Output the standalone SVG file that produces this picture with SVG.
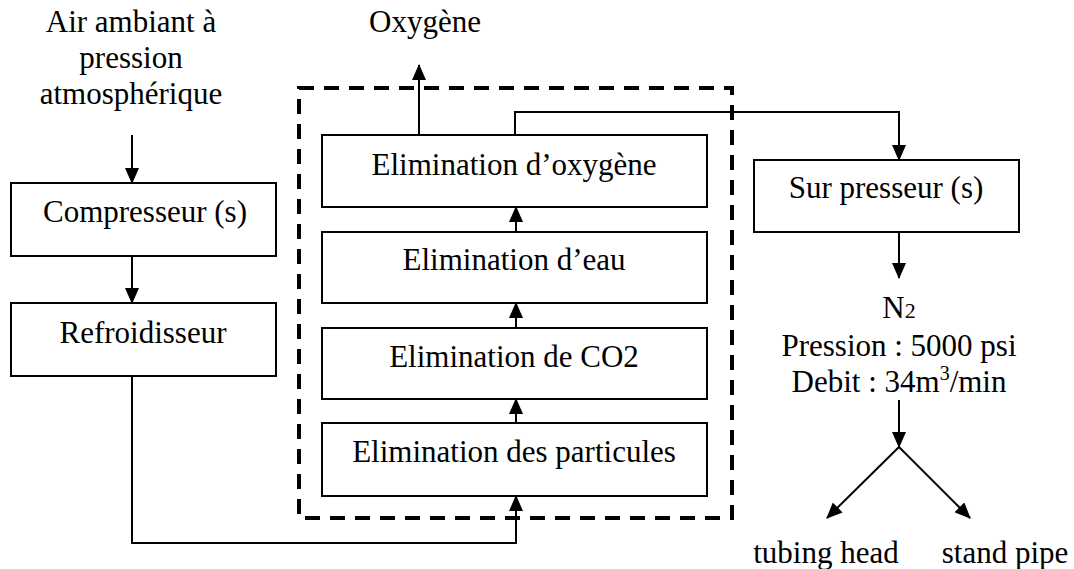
<svg xmlns="http://www.w3.org/2000/svg" width="1074" height="569" viewBox="0 0 1074 569">
<style>
text{font-family:"Liberation Serif","Times New Roman",serif;font-size:31px;fill:#000;}
.box{fill:#fff;stroke:#000;stroke-width:2;}
.ln{fill:none;stroke:#000;stroke-width:2;}
.arr{marker-end:url(#ah);}
</style>
<defs>
<marker id="ah" viewBox="0 0 16 14" markerUnits="userSpaceOnUse" markerWidth="16" markerHeight="14" refX="15" refY="7" orient="auto">
<path d="M0,0 L16,7 L0,14 z" fill="#000"/>
</marker>
</defs>
<rect width="1074" height="569" fill="#fff"/>
<rect id="boundary" x="299" y="88" width="433" height="430" fill="none" stroke="#000" stroke-width="4" stroke-dasharray="15 10"/>
<g id="air"><text x="131" y="32" text-anchor="middle">Air ambiant à</text><text x="131" y="68" text-anchor="middle">pression</text><text x="131" y="104" text-anchor="middle">atmosphérique</text></g>
<g id="oxygene-out"><text x="425" y="32" text-anchor="middle">Oxygène</text></g>
<g id="compresseur"><rect class="box" x="11" y="183" width="265" height="73"/><text x="145" y="222" text-anchor="middle">Compresseur (s)</text></g>
<g id="refroidisseur"><rect class="box" x="11" y="303" width="265" height="73"/><text x="143" y="343" text-anchor="middle">Refroidisseur</text></g>
<g id="elim-oxygene"><rect class="box" x="322" y="135" width="385" height="72"/><text x="514" y="175" text-anchor="middle">Elimination d’oxygène</text></g>
<g id="elim-eau"><rect class="box" x="322" y="232" width="385" height="71"/><text x="514" y="270" text-anchor="middle">Elimination d’eau</text></g>
<g id="elim-co2"><rect class="box" x="322" y="328" width="385" height="71"/><text x="514" y="367" text-anchor="middle">Elimination de CO2</text></g>
<g id="elim-particules"><rect class="box" x="322" y="423" width="385" height="73"/><text x="514" y="462" text-anchor="middle">Elimination des particules</text></g>
<g id="surpresseur"><rect class="box" x="754" y="160" width="265" height="72"/><text x="886" y="198" text-anchor="middle">Sur presseur (s)</text></g>
<g id="n2"><text x="899" y="318" text-anchor="middle">N<tspan font-size="22">2</tspan></text><text x="899" y="356" text-anchor="middle">Pression : 5000 psi</text><text x="899" y="392" text-anchor="middle">Debit : 34m<tspan font-size="20" dy="-12">3</tspan><tspan dy="12">/min</tspan></text></g>
<g id="tubing"><text x="826" y="563" text-anchor="middle">tubing head</text></g>
<g id="stand"><text x="1005" y="563" text-anchor="middle">stand pipe</text></g>
<g id="connectors">
<path class="ln arr" d="M132,135 V183"/>
<path class="ln arr" d="M132,256 V303"/>
<path class="ln arr" d="M132,376 V543 H516 V496"/>
<path class="ln arr" d="M516,423 V399"/>
<path class="ln arr" d="M516,328 V303"/>
<path class="ln arr" d="M516,232 V207"/>
<path class="ln arr" d="M419,135 V65"/>
<path class="ln arr" d="M515,135 V112 H899 V160"/>
<path class="ln arr" d="M899,232 V278"/>
<path class="ln arr" d="M899,400 V447"/>
<path class="ln arr" d="M899,447 L827,518"/>
<path class="ln arr" d="M899,447 L970,518"/>
</g>
</svg>
